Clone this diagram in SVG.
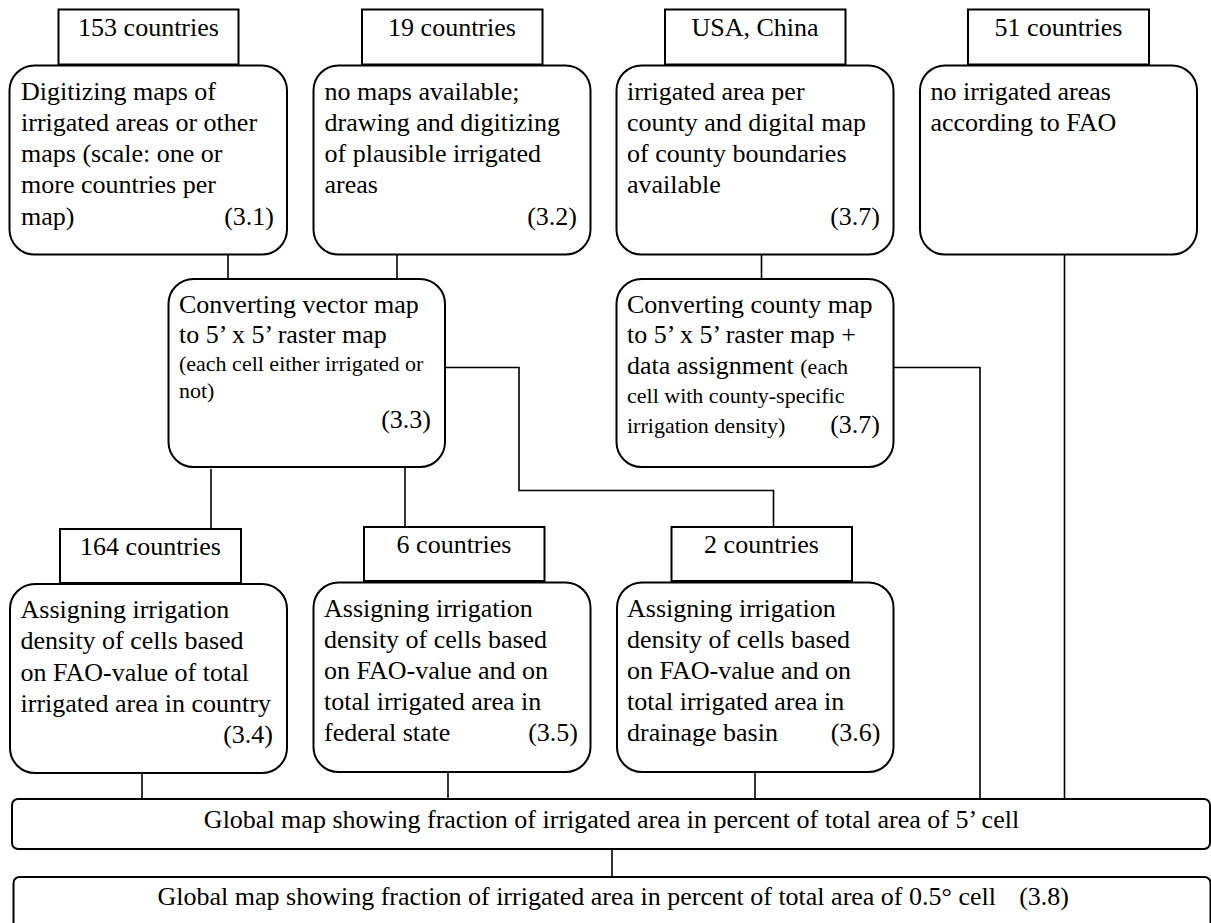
<svg xmlns="http://www.w3.org/2000/svg" width="1211" height="923" viewBox="0 0 1211 923">
<style>
text{font-family:"Liberation Serif","Times New Roman",serif;font-size:26px;fill:#000}
.s{font-size:22px}
.c{text-anchor:middle}
.r{text-anchor:end}
.lbl{fill:#fff;stroke:#000;stroke-width:2}
.box{fill:#fff;stroke:#000;stroke-width:2}
.ln{fill:none;stroke:#000;stroke-width:1.6}
</style>
<rect width="1211" height="923" fill="#fff"/>
<g id="connectors">
<line class="ln" x1="228" y1="254" x2="228" y2="279"/>
<line class="ln" x1="397" y1="254" x2="397" y2="279"/>
<line class="ln" x1="761.5" y1="254" x2="761.5" y2="279"/>
<line class="ln" x1="211" y1="469" x2="211" y2="529"/>
<line class="ln" x1="405" y1="467" x2="405" y2="527"/>
<polyline class="ln" points="445,367.5 519,367.5 519,490.5 773.5,490.5 773.5,527"/>
<polyline class="ln" points="893,367.5 980,367.5 980,799"/>
<line class="ln" x1="1064.5" y1="254" x2="1064.5" y2="799"/>
<line class="ln" x1="142" y1="773" x2="142" y2="799"/>
<line class="ln" x1="448" y1="772" x2="448" y2="799"/>
<line class="ln" x1="755" y1="772" x2="755" y2="799"/>
<line class="ln" x1="612" y1="849" x2="612" y2="877"/>
</g>
<g id="n153">
<rect class="lbl" x="58.5" y="9.5" width="180" height="55"/>
<text class="c" x="148.5" y="36">153 countries</text>
</g>
<g id="n31">
<rect class="box" x="9.5" y="65.5" width="277.5" height="189" rx="25"/>
<text x="21" y="100">Digitizing maps of</text>
<text x="21" y="131">irrigated areas or other</text>
<text x="21" y="162">maps (scale: one or</text>
<text x="21" y="193">more countries per</text>
<text x="21" y="225">map)</text>
<text class="r" x="274" y="225">(3.1)</text>
</g>
<g id="n19">
<rect class="lbl" x="362" y="9.5" width="180.5" height="55"/>
<text class="c" x="452" y="36">19 countries</text>
</g>
<g id="n32">
<rect class="box" x="313.5" y="65.5" width="277" height="189" rx="25"/>
<text x="324.5" y="100">no maps available;</text>
<text x="324.5" y="131">drawing and digitizing</text>
<text x="324.5" y="162">of plausible irrigated</text>
<text x="324.5" y="193">areas</text>
<text class="r" x="577" y="225">(3.2)</text>
</g>
<g id="nUSA">
<rect class="lbl" x="665" y="9.5" width="180.5" height="55"/>
<text class="c" x="755" y="36">USA, China</text>
</g>
<g id="n37a">
<rect class="box" x="616.5" y="65.5" width="277" height="189" rx="25"/>
<text x="627" y="100">irrigated area per</text>
<text x="627" y="131">county and digital map</text>
<text x="627" y="162">of county boundaries</text>
<text x="627" y="193">available</text>
<text class="r" x="880" y="225">(3.7)</text>
</g>
<g id="n51">
<rect class="lbl" x="968" y="9.5" width="181" height="55"/>
<text class="c" x="1058.5" y="36">51 countries</text>
</g>
<g id="nFAO">
<rect class="box" x="920" y="65.5" width="277" height="189" rx="25"/>
<text x="930.5" y="100">no irrigated areas</text>
<text x="930.5" y="131">according to FAO</text>
</g>
<g id="n33">
<rect class="box" x="168.5" y="279" width="276.5" height="188" rx="25"/>
<text x="179" y="313">Converting vector map</text>
<text x="179" y="343">to 5’ x 5’ raster map</text>
<text class="s" x="179" y="371">(each cell either irrigated or</text>
<text class="s" x="179" y="398">not)</text>
<text class="r" x="431" y="428">(3.3)</text>
</g>
<g id="n37b">
<rect class="box" x="616.5" y="279" width="277" height="188" rx="25"/>
<text x="627" y="313">Converting county map</text>
<text x="627" y="343">to 5’ x 5’ raster map +</text>
<text x="627" y="374">data assignment <tspan class="s">(each</tspan></text>
<text class="s" x="627" y="403">cell with county-specific</text>
<text class="s" x="627" y="433">irrigation density)</text>
<text class="r" x="880" y="433">(3.7)</text>
</g>
<g id="n164">
<rect class="lbl" x="60" y="529" width="181" height="54"/>
<text class="c" x="150.5" y="555">164 countries</text>
</g>
<g id="n34">
<rect class="box" x="10" y="584" width="277" height="189" rx="25"/>
<text x="20.5" y="618">Assigning irrigation</text>
<text x="20.5" y="649">density of cells based</text>
<text x="20.5" y="681">on FAO-value of total</text>
<text x="20.5" y="712">irrigated area in country</text>
<text class="r" x="273" y="743">(3.4)</text>
</g>
<g id="n6">
<rect class="lbl" x="364" y="527" width="180.5" height="54"/>
<text class="c" x="454" y="553">6 countries</text>
</g>
<g id="n35">
<rect class="box" x="313.5" y="582.5" width="277" height="189.5" rx="25"/>
<text x="324" y="617">Assigning irrigation</text>
<text x="324" y="648">density of cells based</text>
<text x="324" y="679">on FAO-value and on</text>
<text x="324" y="710">total irrigated area in</text>
<text x="324" y="741">federal state</text>
<text class="r" x="578" y="741">(3.5)</text>
</g>
<g id="n2">
<rect class="lbl" x="671.5" y="527" width="180.5" height="54"/>
<text class="c" x="761.5" y="553">2 countries</text>
</g>
<g id="n36">
<rect class="box" x="617" y="582.5" width="276.5" height="189.5" rx="25"/>
<text x="627" y="617">Assigning irrigation</text>
<text x="627" y="648">density of cells based</text>
<text x="627" y="679">on FAO-value and on</text>
<text x="627" y="710">total irrigated area in</text>
<text x="627" y="741">drainage basin</text>
<text class="r" x="880.5" y="741">(3.6)</text>
</g>
<g id="n5min">
<rect class="box" x="12" y="799" width="1198" height="50" rx="6"/>
<text class="c" x="611.5" y="828">Global map showing fraction of irrigated area in percent of total area of 5’ cell</text>
</g>
<g id="n05deg">
<rect class="box" x="13.5" y="877" width="1197" height="60" rx="6"/>
<text x="157.5" y="905">Global map showing fraction of irrigated area in percent of total area of 0.5° cell</text>
<text class="r" x="1069" y="905">(3.8)</text>
</g>
</svg>
